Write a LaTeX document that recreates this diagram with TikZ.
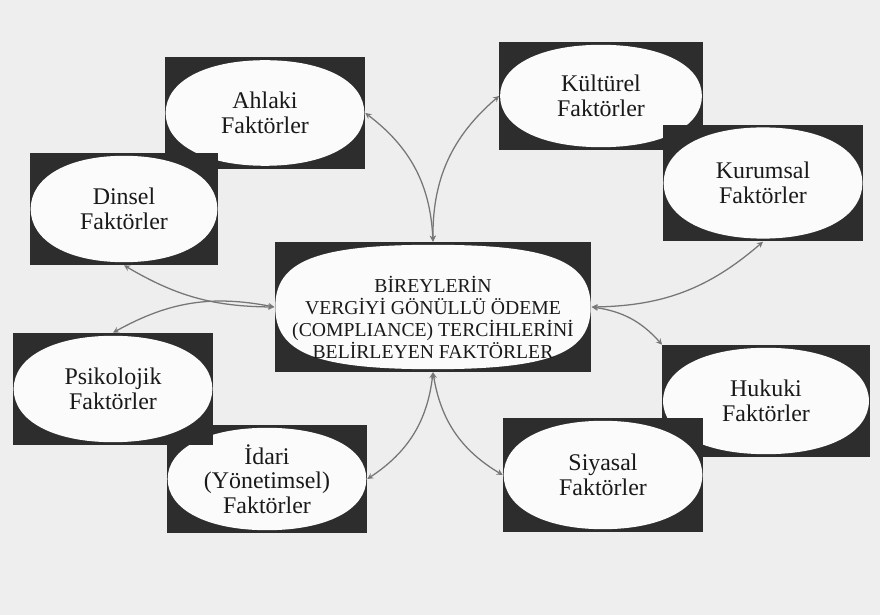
\documentclass[tikz,border=0pt]{standalone}
\usepackage{fontspec}
\setmainfont{Liberation Serif}
\usetikzlibrary{calc}
\definecolor{scangray}{HTML}{EEEEEE}
\definecolor{boxdark}{HTML}{2D2D2D}
\definecolor{ovalwhite}{HTML}{FBFBFB}
\definecolor{linkgray}{HTML}{767676}
\tikzset{
    ovalk/.store in=\ovalk, ovalk=0.6,
    factor/.style={rectangle, fill=boxdark, minimum width=5cm, minimum height=2.8cm, inner sep=0pt,
        align=center, text=black!90, font=\fontsize{17}{17.5}\selectfont,
        path picture={\fill[ovalwhite] let \p1=(path picture bounding box.south west),
            \p2=(path picture bounding box.north east), \p3=($(\p1)!0.5!(\p2)$),
            \n1={(\x2-\x1)/2-0.5}, \n2={(\y2-\y1)/2-2} in
            (\x3+\n1,\y3) .. controls (\x3+\n1,\y3+\ovalk*\n2) and (\x3+\ovalk*\n1,\y3+\n2) .. (\x3,\y3+\n2)
            .. controls (\x3-\ovalk*\n1,\y3+\n2) and (\x3-\n1,\y3+\ovalk*\n2) .. (\x3-\n1,\y3)
            .. controls (\x3-\n1,\y3-\ovalk*\n2) and (\x3-\ovalk*\n1,\y3-\n2) .. (\x3,\y3-\n2)
            .. controls (\x3+\ovalk*\n1,\y3-\n2) and (\x3+\n1,\y3-\ovalk*\n2) .. cycle;}},
    centretext/.style={align=center, text=black!90, inner sep=0pt, font=\fontsize{14}{15.6}\selectfont},
    link/.style={<->, >=stealth, draw=linkgray, line width=0.9pt}
}
\begin{document}
\begin{tikzpicture}[x=0.025cm, y=-0.025cm]
            %scanned page background, 880 x 615
            \fill[scangray] (0,0) rectangle (880,615);

            %factor boxes: order matters where they overlap
            \node[factor, minimum height=2.78cm] (ahlaki) at (265,113) {Ahlaki\\Faktörler};
            \node[factor, minimum width=4.7cm] (dinsel) at (124,209) {Dinsel\\Faktörler};
            \node[factor, minimum width=5.08cm, minimum height=2.7cm] (kultur) at (601,96) {Kültürel\\Faktörler};
            \node[factor, minimum height=2.92cm] (kurum) at (763,183) {Kurumsal\\Faktörler};
            \node[factor, ovalk=0.74, minimum width=7.92cm, minimum height=3.25cm] (merkez) at (433,307) {};
            \node[centretext] (merkezyazi) at ([yshift=-0.26cm]merkez.center)
                {BİREYLERİN\\VERGİYİ GÖNÜLLÜ ÖDEME\\(COMPLIANCE) TERCİHLERİNİ\\BELİRLEYEN FAKTÖRLER};
            \node[factor, minimum height=2.7cm] (idari) at (267,479) {İdari\\(Yönetimsel)\\Faktörler};
            \node[factor] (psiko) at (113,389) {Psikolojik\\Faktörler};
            \node[factor, minimum width=5.18cm] (hukuki) at (766,401) {Hukuki\\Faktörler};
            \node[factor, minimum height=2.85cm] (siyasal) at (603,475) {Siyasal\\Faktörler};

            %links from the centre
            \draw[link] (merkez.north) to[bend right=25] (ahlaki.east);
            \draw[link] (merkez.north) to[bend left=25] (kultur.west);
            \draw[link] (merkez.west) to[bend left=15] (dinsel.south);
            \draw[link] (merkez.west) to[bend right=20] (psiko.north);
            \draw[link] (merkez.east) to[bend right=20] (kurum.south);
            \draw[link] (merkez.east) to[bend left=20] (hukuki.north west);
            \draw[link] (merkez.south) to[bend left=25] (idari.east);
            \draw[link] (merkez.south) to[bend right=25] (siyasal.west);
        \end{tikzpicture}
\end{document}
